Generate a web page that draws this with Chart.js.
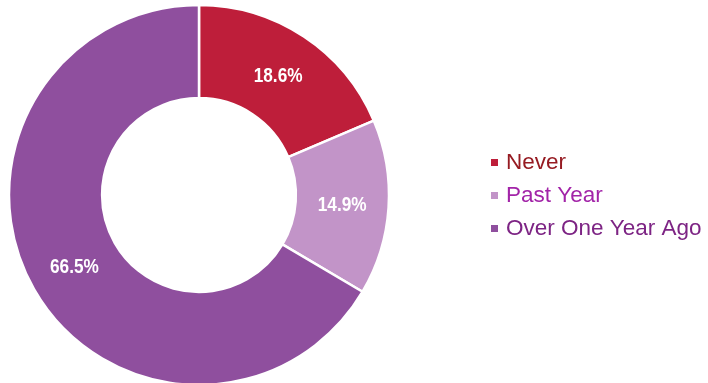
<!DOCTYPE html>
<html>
<head>
<meta charset="utf-8">
<script src="https://cdn.jsdelivr.net/npm/chart.js@4/dist/chart.umd.min.js"></script>
<style>
  html, body { margin: 0; padding: 0; background: #fff; }
  #wrap { position: relative; width: 708px; height: 383px; }
</style>
</head>
<body>
<div id="wrap"><canvas id="myChart" width="708" height="383"></canvas></div>
<script>
// survey answers, percent of respondents
var categories = ['Never', 'Past Year', 'Over One Year Ago'];
var shares = [18.6, 14.9, 66.5];
var sliceColors = ['#BE1E3A', '#C294C8', '#8F4F9E'];
var legendTextColors = ['#961B22', '#A224A8', '#7D2484'];

// white percent label in the middle of every slice (squeezed to look narrow)
var sliceLabels = {
    id: 'sliceLabels',
    afterDatasetsDraw: function(chart) {
        var ctx = chart.ctx;
        var meta = chart.getDatasetMeta(0);
        meta.data.forEach(function(arc, i) {
            var pos = arc.tooltipPosition();
            ctx.save();
            ctx.translate(pos.x, pos.y);
            ctx.scale(0.82, 1);
            ctx.fillStyle = '#ffffff';
            ctx.font = 'bold 21px "Liberation Sans", Arial, sans-serif';
            ctx.textAlign = 'center';
            ctx.textBaseline = 'middle';
            ctx.fillText(shares[i].toFixed(1) + '%', 0, 1);
            ctx.restore();
        });
    }
};

// legend on the right, each entry in its own colour
var sideLegend = {
    id: 'sideLegend',
    afterDraw: function(chart) {
        var ctx = chart.ctx;
        ctx.save();
        ctx.font = '22.5px "Liberation Sans", Arial, sans-serif';
        ctx.textBaseline = 'alphabetic';
        for (var i = 0; i < categories.length; i++) {
            var y = 169 + i * 33;
            ctx.fillStyle = sliceColors[i];
            ctx.fillRect(491, y - 10, 7, 7);
            ctx.fillStyle = legendTextColors[i];
            ctx.fillText(categories[i], 506, y);
        }
        ctx.restore();
    }
};

var ctx = document.getElementById('myChart').getContext('2d');
var myChart = new Chart(ctx, {
    type: 'doughnut',
    data: {
        labels: categories,
        datasets: [{
            data: shares,
            backgroundColor: sliceColors,
            borderColor: '#ffffff',
            borderWidth: 2.5,
            radius: 190,
            cutout: '51%'
        }]
    },
    options: {
        responsive: false,
        animation: false,
        layout: { padding: { left: 0, right: 310, top: 7, bottom: 0 } },
        plugins: {
            legend: { display: false },
            tooltip: { enabled: false }
        }
    },
    plugins: [sliceLabels, sideLegend]
});
</script>
</body>
</html>
